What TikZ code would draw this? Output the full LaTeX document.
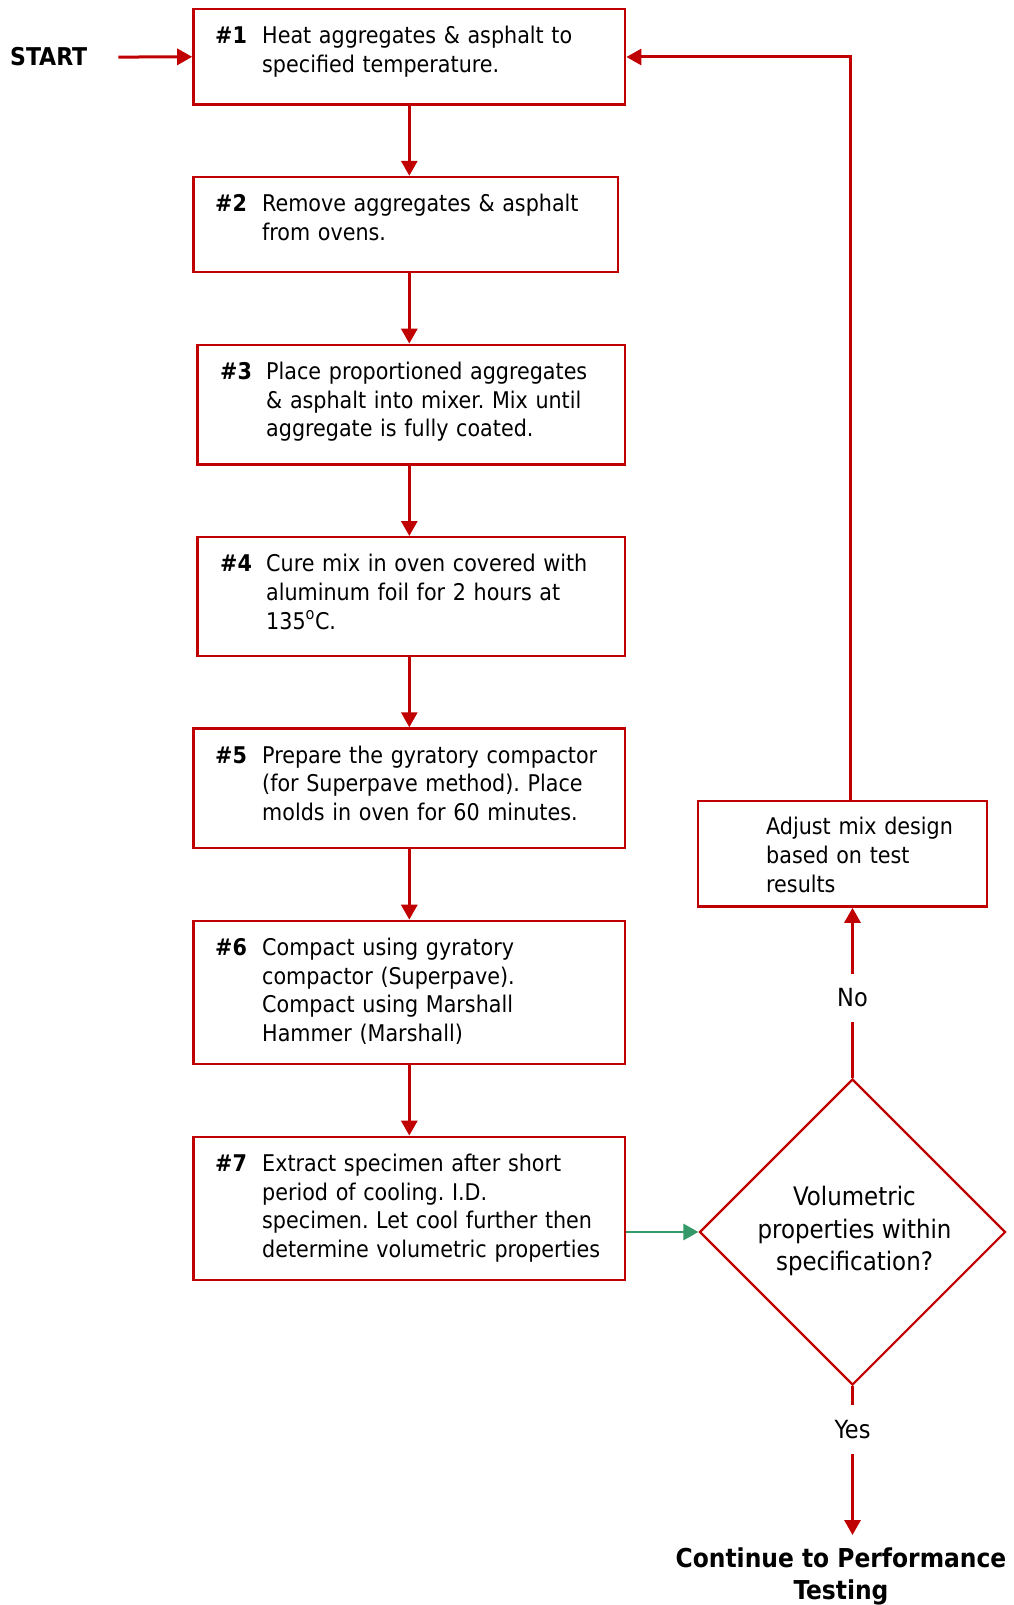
\documentclass[tikz,border=0pt]{standalone}
\usepackage{fontspec}
\setmainfont{DejaVu Sans Condensed}
\usetikzlibrary{arrows.meta,shapes.geometric}
\definecolor{rd}{HTML}{C00000}
\definecolor{gr}{HTML}{339966}
\frenchspacing
\tikzset{
  box/.style={draw=rd, line width=2.4pt, rectangle, inner sep=0pt},
  num/.style={anchor=base west, inner sep=0pt, font=\fontsize{23}{28.6}\selectfont\bfseries},
  txt/.style={anchor=base west, inner sep=0pt, text width=420pt, align=left, font=\fontsize{23}{28.6}\selectfont\frenchspacing},
  arr/.style={draw=rd, line width=3pt, -{Triangle[width=16pt,length=15pt]}},
  garr/.style={draw=gr, line width=2.6pt, -{Triangle[width=16pt,length=15pt]}},
  lbl/.style={fill=white, inner xsep=2pt, inner ysep=15pt, font=\fontsize{25}{30}\selectfont},
}
\begin{document}
\begin{tikzpicture}[x=1pt,y=-1pt]
\useasboundingbox (0,0) rectangle (1013,1605);
% boxes
\node[box, minimum width=431.8pt, minimum height=95.2pt] (b1) at (409.3,56.8) {};
\node[box, minimum width=424.6pt, minimum height=95.2pt] (b2) at (405.7,224.6) {};
\node[box, minimum width=427.7pt, minimum height=119.7pt] (b3) at (411.35,404.65) {};
\node[box, minimum width=427.7pt, minimum height=118.7pt] (b4) at (411.35,596.55) {};
\node[box, minimum width=431.8pt, minimum height=119.7pt] (b5) at (409.3,788.35) {};
\node[box, minimum width=431.8pt, minimum height=143.2pt] (b6) at (409.3,992.5) {};
\node[box, minimum width=431.8pt, minimum height=143.2pt] (b7) at (409.3,1208.4) {};
\node[box, minimum width=288.5pt, minimum height=105.4pt] (adj) at (842.5,853.9) {};
\node[draw=rd, line width=2.2pt, shape=diamond, aspect=1, inner sep=0pt, minimum width=306pt, minimum height=306pt] (dia) at (852.5,1232) {};
% texts
\node[num] (n1) at (215,43.8) {\#1};
\node[txt] (t1) at (262,43.8) {Heat aggregates \& asphalt to\\specified temperature.};
\node[num] (n2) at (215,211.6) {\#2};
\node[txt] (t2) at (262,211.6) {Remove aggregates \& asphalt\\from ovens.};
\node[num] (n3) at (220,379.4) {\#3};
\node[txt] (t3) at (266,379.4) {Place proportioned aggregates\\\& asphalt into mixer. Mix until\\aggregate is fully coated.};
\node[num] (n4) at (220,571.8) {\#4};
\node[txt] (t4) at (266,571.8) {Cure mix in oven covered with\\aluminum foil for 2 hours at\\135\textsuperscript{o}C.};
\node[num] (n5) at (215,763) {\#5};
\node[txt] (t5) at (262,763) {Prepare the gyratory compactor\\(for Superpave method). Place\\molds in oven for 60 minutes.};
\node[num] (n6) at (215,955.5) {\#6};
\node[txt] (t6) at (262,955.5) {Compact using gyratory\\compactor (Superpave).\\Compact using Marshall\\Hammer (Marshall)};
\node[num] (n7) at (215,1171.7) {\#7};
\node[txt] (t7) at (262,1171.7) {Extract specimen after short\\period of cooling. I.D.\\specimen. Let cool further then\\determine volumetric properties};
\node[anchor=base west, inner sep=0pt, text width=220pt, align=left, font=\fontsize{23}{29}\selectfont] (ta) at (766,834.7) {Adjust mix design\\based on test\\results};
\node[align=center, inner sep=0pt, font=\fontsize{25.5}{32.5}\selectfont] (td) at ([xshift=2pt,yshift=1pt]dia.center) {Volumetric\\properties within\\specification?};
\node[anchor=base west, inner sep=0pt, font=\fontsize{24.5}{28}\selectfont\bfseries] (st) at (10,66) {START};
\node[anchor=base, inner sep=0pt, align=center, font=\fontsize{26}{32}\selectfont\bfseries] (cont) at (841,1599) {Continue to Performance\\Testing};
\coordinate (fb) at (850,57);
\coordinate (yesend) at (852.5,1535);
% connectors
\draw[arr] ([xshift=31pt]st.east) -- (b1.west);
\draw[arr] (b1.south) -- (b2.north -| b1.south);
\draw[arr] (b2.south -| b1.south) -- (b3.north -| b1.south);
\draw[arr] (b3.south -| b1.south) -- (b4.north -| b1.south);
\draw[arr] (b4.south -| b1.south) -- (b5.north -| b1.south);
\draw[arr] (b5.south -| b1.south) -- (b6.north -| b1.south);
\draw[arr] (b6.south -| b1.south) -- (b7.north -| b1.south);
\draw[garr] (dia.west -| b7.east) -- (dia.west);
\draw[arr] (dia.north) -- node[lbl, pos=0.47] {No} (dia.north |- adj.south);
\draw[arr] (adj.north -| fb) -- (fb) -- (b1.east |- fb);
\draw[arr] (dia.south) -- node[lbl, pos=0.29] {Yes} (yesend);
\end{tikzpicture}
\end{document}
